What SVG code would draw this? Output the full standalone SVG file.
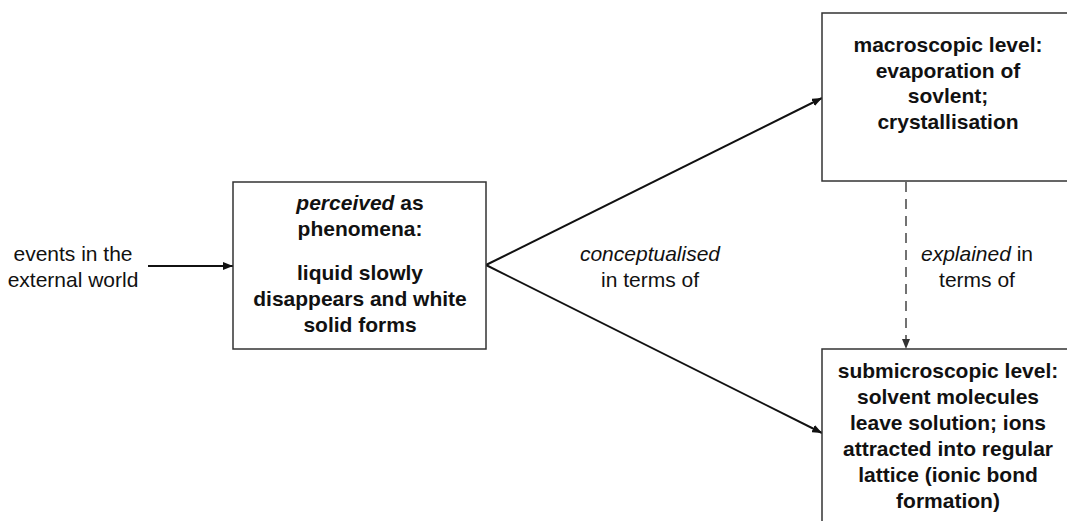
<svg xmlns="http://www.w3.org/2000/svg" width="1067" height="521" viewBox="0 0 1067 521">
  <style>
    text { font-family: "Liberation Sans", Arial, Helvetica, sans-serif; font-size: 21px; fill: #111; text-anchor: middle; }
    .b { font-weight: bold; }
    .i { font-style: italic; }
    .box { fill: #fff; stroke: #333; stroke-width: 1.5; }
    .conn { fill: none; stroke: #111; stroke-width: 2; }
    .dash { fill: none; stroke: #444; stroke-width: 1.5; stroke-dasharray: 10 7; }
  </style>
  <defs>
    <marker id="arr" markerUnits="userSpaceOnUse" markerWidth="10" markerHeight="8" refX="10" refY="4" orient="auto">
      <path d="M0,0 L10,4 L0,8 z" fill="#111"/>
    </marker>
    <marker id="arrd" markerUnits="userSpaceOnUse" markerWidth="10" markerHeight="8" refX="10" refY="4" orient="auto">
      <path d="M0,0 L10,4 L0,8 z" fill="#333"/>
    </marker>
  </defs>

  <g id="connectors">
    <line class="conn" x1="148" y1="266" x2="233" y2="266" marker-end="url(#arr)"/>
    <line class="conn" x1="486" y1="265" x2="822" y2="98" marker-end="url(#arr)"/>
    <line class="conn" x1="486" y1="265" x2="822" y2="433" marker-end="url(#arr)"/>
    <line class="dash" x1="906" y1="182" x2="906" y2="349" marker-end="url(#arrd)"/>
    <text x="650" y="261" class="i">conceptualised</text>
    <text x="650" y="287">in terms of</text>
    <text x="977" y="261"><tspan class="i">explained</tspan> in</text>
    <text x="977" y="287">terms of</text>
  </g>

  <g id="events">
    <text x="73" y="261">events in the</text>
    <text x="73" y="287">external world</text>
  </g>

  <g id="phenomena">
    <rect class="box" x="233" y="182" width="253" height="167"/>
    <text x="360" y="210" class="b"><tspan class="i">perceived</tspan> as</text>
    <text x="360" y="236" class="b">phenomena:</text>
    <text x="360" y="280" class="b">liquid slowly</text>
    <text x="360" y="306" class="b">disappears and white</text>
    <text x="360" y="332" class="b">solid forms</text>
  </g>

  <g id="macroscopic">
    <rect class="box" x="822" y="13" width="252" height="168"/>
    <text x="948" y="52" class="b">macroscopic level:</text>
    <text x="948" y="77.5" class="b">evaporation of</text>
    <text x="948" y="103" class="b">sovlent;</text>
    <text x="948" y="128.5" class="b">crystallisation</text>
  </g>

  <g id="submicroscopic">
    <rect class="box" x="822" y="349" width="252" height="190"/>
    <text x="948" y="378" class="b">submicroscopic level:</text>
    <text x="948" y="404" class="b">solvent molecules</text>
    <text x="948" y="430" class="b">leave solution; ions</text>
    <text x="948" y="456" class="b">attracted into regular</text>
    <text x="948" y="482" class="b">lattice (ionic bond</text>
    <text x="948" y="508" class="b">formation)</text>
  </g>
</svg>
